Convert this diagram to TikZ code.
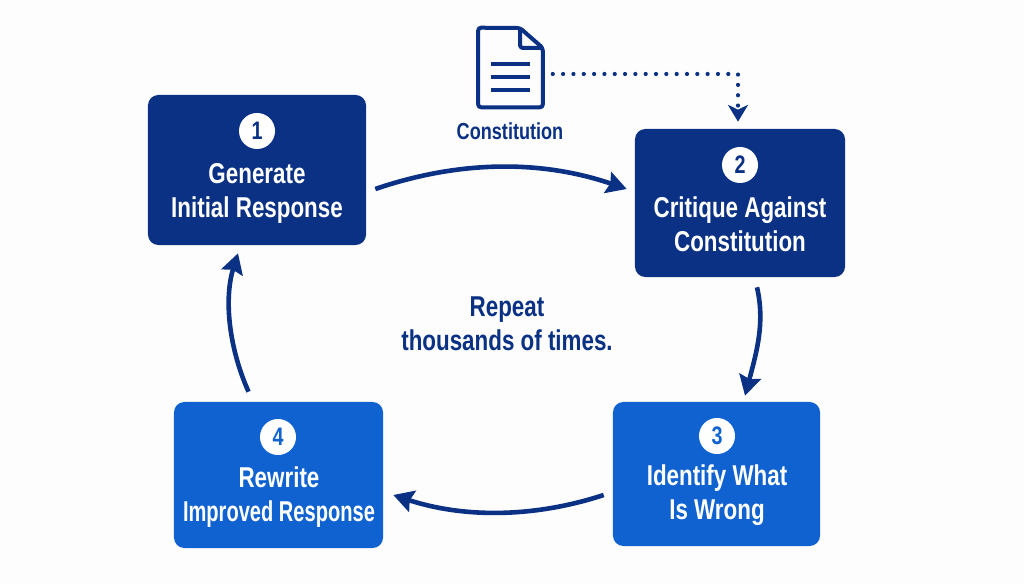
\documentclass[tikz,border=0pt]{standalone}
\usepackage{fontspec}
\setmainfont[FakeStretch=0.78]{Liberation Sans}
\newfontfamily\narrowface[FakeStretch=0.7]{Liberation Sans}
\usetikzlibrary{arrows.meta}
\definecolor{darkblue}{RGB}{10,49,132}
\definecolor{midblue}{RGB}{15,98,208}
\definecolor{pagewhite}{RGB}{253,253,253}
\tikzset{
  stepbox/.style={rounded corners=0.26cm,inner sep=0pt},
  numdot/.style={circle,fill=white,minimum size=0.9cm,inner sep=0pt,font=\fontsize{18}{20}\selectfont\bfseries},
  boxtext/.style={white,align=center,font=\fontsize{20.4}{24.2}\selectfont\bfseries},
  plaintext/.style={darkblue,align=center,font=\fontsize{20.4}{24.2}\selectfont\bfseries},
  looparrow/.style={darkblue,line width=0.115cm,-{Stealth[length=0.5cm,width=0.55cm,inset=0.07cm]}},
  dotarrow/.style={darkblue,line width=0.105cm,line cap=round,dash pattern=on 0pt off 0.258cm},
}
\begin{document}
\begin{tikzpicture}[x=0.025cm,y=0.025cm]

%% page
\fill [pagewhite] (0,0) rectangle (1024,585);
\useasboundingbox (0,0) rectangle (1024,585);

%% boxes
\node (box1) [stepbox,fill=darkblue,minimum width=5.45cm,minimum height=3.75cm] at (257,415) {};
\node (box2) [stepbox,fill=darkblue,minimum width=5.25cm,minimum height=3.7cm] at (740,382) {};
\node (box3) [stepbox,fill=midblue,minimum width=5.175cm,minimum height=3.6cm] at (716.5,111) {};
\node (box4) [stepbox,fill=midblue,minimum width=5.225cm,minimum height=3.65cm] at (278.5,110) {};

% numbers
\node (num1) [numdot,text=darkblue] at (257,454) {1};
\node (num2) [numdot,text=darkblue] at (740,420) {2};
\node (num3) [numdot,text=midblue] at (717,149) {3};
\node (num4) [numdot,text=midblue] at (278,148) {4};

% labels
\node (text1) [boxtext] at (257,392) {Generate\\Initial Response};
\node (text2) [boxtext] at (740,360.5) {Critique Against\\Constitution};
\node (text3) [boxtext] at (717,90) {Identify What\\Is Wrong};
\node (text4) [boxtext] at (279,88) {Rewrite\\{\narrowface\bfseries Improved Response}};
\node (repeat) [plaintext] at (507,261) {Repeat\\thousands of times.};

%% document
\node (doc) [minimum width=1.6cm,minimum height=1.975cm,inner sep=0pt] at (510.5,517.5) {};
\draw [darkblue,line width=0.1cm,line join=round,rounded corners=0.07cm] (doc.south west) -- (doc.north west) -- (520,557) -- (doc.east |- 0,537) -- (doc.south east) -- cycle;
\draw [darkblue,line width=0.1cm,line join=round,rounded corners=0.07cm] (520,557) -- (520,537) -- (542.5,537);
\draw [darkblue,line width=0.085cm] (491,521) -- (530,521);
\draw [darkblue,line width=0.085cm] (491,508) -- (530,508);
\draw [darkblue,line width=0.085cm] (491,495) -- (530,495);
\node (doclabel) [darkblue,font=\fontsize{16.5}{18}\selectfont\bfseries] at (510,454) {Constitution};

%% arrows
\draw [dotarrow] ([shift={(10,-6.5)}]doc.east) -| ([shift={(-2,20)}]box2.north);
\draw [darkblue,-{Stealth[length=0.42cm,width=0.5cm,inset=0.12cm]},line width=0.1cm] ([shift={(-2,14)}]box2.north) -- ([shift={(-2,7)}]box2.north);
\draw [looparrow] ([shift={(9,-19)}]box1.east) .. controls +(85,29) and +(-85,29) .. ([shift={(-8,14)}]box2.west);
\draw [looparrow] ([shift={(17,-10)}]box2.south) .. controls +(8,-35) and +(12,45) .. ([shift={(5,6)}]box3.north -| box2.south);
\draw [looparrow] ([shift={(-9,-21)}]box3.west) .. controls +(-70,-23) and +(70,-23) .. ([shift={(10,-20)}]box4.east);
\draw [looparrow] ([shift={(-30,10)}]box4.north) .. controls +(-20,45) and +(-14,-45) .. ([shift={(-19,-8)}]box1.south);

\end{tikzpicture}
\end{document}
